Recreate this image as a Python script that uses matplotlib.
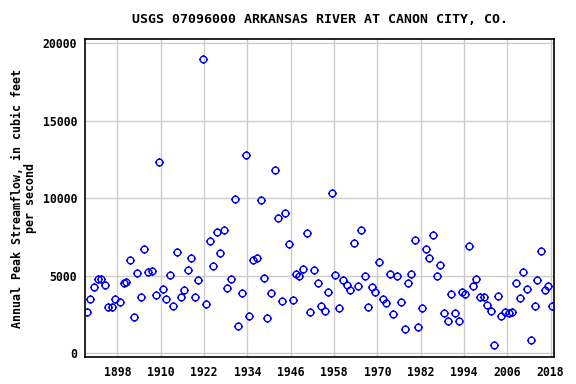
import numpy as np
import matplotlib
matplotlib.use("Agg")
import matplotlib.pyplot as plt
from matplotlib.path import Path

# peak dates (decimal year) and annual peak streamflow (cfs)
peak_year = [
    1889.7, 1890.5, 1891.5, 1892.7, 1893.6, 1894.7, 1895.5, 1896.6, 1897.4, 1898.6,
    1899.7, 1900.5, 1901.6, 1902.7, 1903.5, 1904.6, 1905.5, 1906.6, 1907.7, 1908.8,
    1909.6, 1910.7, 1911.6, 1912.7, 1913.5, 1914.6, 1915.7, 1916.5, 1917.7, 1918.5,
    1919.6, 1920.4, 1921.8, 1922.6, 1923.6, 1924.6, 1925.7, 1926.5, 1927.6, 1928.5,
    1929.6, 1930.7, 1931.5, 1932.6, 1933.7, 1934.5, 1935.7, 1936.8, 1937.9, 1938.7,
    1939.5, 1940.6, 1941.7, 1942.6, 1943.7, 1944.5, 1945.6, 1946.7, 1947.6, 1948.4,
    1949.5, 1950.6, 1951.4, 1952.5, 1953.6, 1954.5, 1955.6, 1956.4, 1957.5, 1958.3,
    1959.5, 1960.6, 1961.7, 1962.5, 1963.6, 1964.7, 1965.5, 1966.6, 1967.5, 1968.6,
    1969.4, 1970.5, 1971.6, 1972.5, 1973.6, 1974.4, 1975.5, 1976.6, 1977.7, 1978.6,
    1979.4, 1980.5, 1981.3, 1982.4, 1983.5, 1984.4, 1985.5, 1986.6, 1987.4, 1988.5,
    1989.5, 1990.5, 1991.6, 1992.7, 1993.5, 1994.3, 1995.5, 1996.6, 1997.4, 1998.5,
    1999.6, 2000.4, 2001.5, 2002.4, 2003.5, 2004.3, 2005.4, 2006.5, 2007.3, 2008.5,
    2009.6, 2010.4, 2011.5, 2012.6, 2013.7, 2014.3, 2015.4, 2016.5, 2017.4, 2018.4,
]
peak_flow = [
    2650, 3480, 4260, 4770, 4770, 4390, 2990, 2990, 3480, 3290,
    4520, 4580, 6000, 2320, 5160, 3610, 6710, 5230, 5290, 3740,
    12320, 4130, 3480, 5030, 3030, 6520, 3610, 4060, 5350, 6130,
    3610, 4710, 18970, 3160, 7230, 5610, 7810, 6450, 7940, 4190,
    4770, 9940, 1740, 3870, 12770, 2390, 6000, 6130, 9870, 4840,
    2260, 3870, 11810, 8710, 3350, 9030, 7030, 3420, 5100, 4970,
    5420, 7740, 2650, 5350, 4520, 3030, 2710, 3940, 10320, 5030,
    2900, 4710, 4390, 4060, 7100, 4320, 7940, 4970, 2970, 4260,
    3940, 5870, 3480, 3230, 5100, 2520, 4970, 3290, 1550, 4520,
    5100, 7290, 1680, 2900, 6710, 6130, 7610, 4970, 5680, 2580,
    2060, 3810, 2580, 2060, 3940, 3810, 6900, 4320, 4770, 3610,
    3610, 3100, 2710, 520, 3680, 2390, 2650, 2580, 2650, 4520,
    3550, 5230, 4130, 840, 3030, 4710, 6580, 4060, 4320, 3030,
]

x_ticks = [1898, 1910, 1922, 1934, 1946, 1958, 1970, 1982, 1994, 2006, 2018]
y_ticks = [0, 5000, 10000, 15000, 20000]

# open circle with four little ticks, like the USGS plots
circ = Path.unit_circle()
ticks = []
for dx, dy in [(1, 0), (-1, 0), (0, 1), (0, -1)]:
    ticks.append(Path([(dx * 1.0, dy * 1.0), (dx * 1.35, dy * 1.35)], [Path.MOVETO, Path.LINETO]))
marker = Path.make_compound_path(circ, *ticks)

mono = "DejaVu Sans Mono"

fig = plt.figure(figsize=(5.76, 3.84), dpi=100)
ax = fig.add_axes([0.148, 0.0695, 0.814, 0.8282])

ax.plot(peak_year, peak_flow, linestyle="none", marker=marker, markersize=6.5,
        markerfacecolor="none", markeredgecolor="#0000ff", markeredgewidth=1.0,
        zorder=3)

ax.set_xlim(1889.1, 2019.0)
ax.set_ylim(-260, 20260)
ax.set_xticks(x_ticks)
ax.set_yticks(y_ticks)
ax.grid(True, color="#cccccc", linewidth=1.0)
ax.set_axisbelow(True)
ax.tick_params(length=0, pad=6)
for lab in ax.get_xticklabels() + ax.get_yticklabels():
    lab.set_family(mono)
    lab.set_fontweight("bold")
    lab.set_fontsize(8.3)
for s in ax.spines.values():
    s.set_linewidth(1.2)

ax.set_ylabel("Annual Peak Streamflow, in cubic feet\nper second", family=mono,
              fontweight="bold", fontsize=8.4, linespacing=1.0, labelpad=4)
ax.set_title("USGS 07096000 ARKANSAS RIVER AT CANON CITY, CO.", family=mono,
             fontweight="bold", fontsize=9.5, pad=12)

fig.savefig("out.png", dpi=100)
